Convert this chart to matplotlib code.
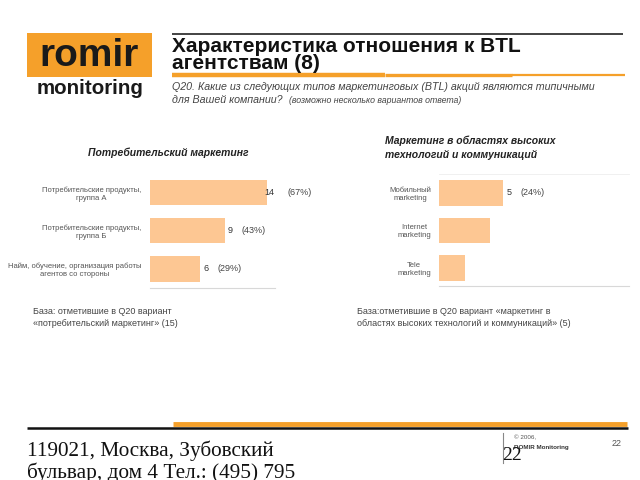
import matplotlib
matplotlib.use("Agg")
import matplotlib.pyplot as plt
from matplotlib.patches import Rectangle
from matplotlib.lines import Line2D

# ---- data ----
left_categories = ["Потребительские продукты,\nгруппа А",
                   "Потребительские продукты,\nгруппа Б",
                   "Найм, обучение, организация работы\nагентов со стороны"]
left_values = [14, 9, 6]
left_pct = ["(67%)", "(43%)", "(29%)"]

right_categories = ["Мобильный\nmarketing", "Internet\nmarketing", "Tele\nmarketing"]
right_values = [5, 4, 2]
right_pct = ["(24%)", None, None]

BAR = "#FDC793"
ORANGE = "#F5A02A"
SANS = ["Liberation Sans", "DejaVu Sans"]
SERIF = ["Liberation Serif", "DejaVu Serif"]

W, H = 640, 480
fig = plt.figure(figsize=(6.4, 4.8), dpi=100)

def fx(x): return x / W
def fy(y): return 1 - y / H

def txt(x, y, s, **kw):
    kw.setdefault("family", SANS)
    fig.text(fx(x), fy(y), s, **kw)

def hline(x0, x1, y, lw, color):
    fig.add_artist(Line2D([fx(x0), fx(x1)], [fy(y), fy(y)], lw=lw, color=color,
                          transform=fig.transFigure, solid_capstyle="butt"))

# ---- logo ----
fig.add_artist(Rectangle((fx(27), fy(77)), fx(152) - fx(27), fy(33) - fy(77),
                         transform=fig.transFigure, color=ORANGE, lw=0))
txt(89, 56, "romir", fontsize=28, weight="bold", color="#1a1a1a", ha="center", va="center")
txt(90, 89, "monitoring", fontsize=14.8, weight="bold", color="#1a1a1a", ha="center", va="center")

# ---- header ----
hline(172, 623, 33.5, 1.2, "#222222")
txt(172, 55, "Характеристика отношения к BTL\nагентствам (8)", fontsize=15.0, weight="bold",
    color="#111111", va="center", linespacing=0.88)
hline(172, 385, 75, 3.2, ORANGE)
hline(385, 512, 75, 2.4, ORANGE)
hline(512, 625, 75, 1.6, ORANGE)
txt(172, 87, "Q20. Какие из следующих типов маркетинговых (BTL) акций являются типичными",
    fontsize=7.7, style="italic", color="#444444", va="center")
txt(172, 100, "для Вашей компании?", fontsize=7.7, style="italic", color="#444444", va="center")
txt(289, 100.5, "(возможно несколько вариантов ответа)", fontsize=6.3, style="italic",
    color="#444444", va="center")

# ---- chart titles ----
txt(168, 153, "Потребительский маркетинг", fontsize=7.5, weight="bold", style="italic",
    color="#222222", ha="center", va="center")
txt(385, 141, "Маркетинг в областях высоких", fontsize=7.5, weight="bold", style="italic",
    color="#222222", va="center")
txt(385, 155, "технологий и коммуникаций", fontsize=7.5, weight="bold", style="italic",
    color="#222222", va="center")

def draw_bars(rect, cats, vals, pcts, ylim, height, top_line, num_off):
    ax = fig.add_axes(rect)
    pos = list(range(len(cats)))
    ax.barh(pos, vals, height=height, color=BAR, lw=0)
    ax.set_xlim(0, 15)
    ax.set_ylim(*ylim)
    ax.set_yticks(pos)
    ax.set_yticklabels(cats, fontsize=5.5, color="#555555", family=SANS,
                       multialignment="center")
    ax.set_xticks([])
    ax.tick_params(axis="y", length=0, pad=6)
    for s in ["left", "right"]:
        ax.spines[s].set_visible(False)
    ax.spines["bottom"].set_color("#d8d8d8")
    ax.spines["bottom"].set_linewidth(0.8)
    if top_line:
        ax.spines["top"].set_color("#eeeeee")
        ax.spines["top"].set_linewidth(0.6)
    else:
        ax.spines["top"].set_visible(False)
    for p, v, pc, no in zip(pos, vals, pcts, num_off):
        if pc is None:
            continue
        ax.annotate(str(v), (v, p), xytext=(no, 0), textcoords="offset points",
                    fontsize=6.5, color="#333333", va="center", family=SANS)
        ax.annotate(pc, (v, p), xytext=(no + (17 if v >= 10 else 10), 0),
                    textcoords="offset points",
                    fontsize=6.5, color="#444444", va="center", family=SANS)
    return ax

draw_bars([fx(149.5), fy(288), fx(275) - fx(149.5), fy(178) - fy(288)],
          left_categories, left_values, left_pct, (2.5, -0.38), 0.66, False, [-2, 2, 3])
draw_bars([fx(439.3), fy(286), fx(629) - fx(439.3), fy(174) - fy(286)],
          right_categories, right_values, right_pct, (2.48, -0.5), 0.68, True, [3, 3, 3])

# ---- base notes ----
txt(33, 312, "База: отметившие в Q20 вариант", fontsize=6.5, color="#444444", va="center")
txt(33, 323, "«потребительский маркетинг» (15)", fontsize=6.5, color="#444444", va="center")
txt(357, 312, "База:отметившие в Q20 вариант «маркетинг в", fontsize=6.5, color="#444444", va="center")
txt(357, 323, "областях высоких технологий и коммуникаций» (5)", fontsize=6.5, color="#444444", va="center")

# ---- footer ----
hline(173, 627, 423.5, 3.5, ORANGE)
hline(27, 628, 428, 1.8, "#111111")
fig.text(fx(27), fy(451), "119021, Москва, Зубовский", fontsize=15.3, family=SERIF,
         color="#111111", va="center")
fig.text(fx(27), fy(473), "бульвар, дом 4 Тел.: (495) 795", fontsize=15.3, family=SERIF,
         color="#111111", va="center")
fig.add_artist(Line2D([fx(503), fx(503)], [fy(433), fy(463)], lw=0.8, color="#888888",
                      transform=fig.transFigure))
txt(514, 438, "© 2006,", fontsize=4.5, color="#555555", va="center")
txt(514, 447, "ROMIR Monitoring", fontsize=4.5, weight="bold", color="#333333", va="center")
fig.text(fx(502), fy(456), "22", fontsize=14, family=SERIF, color="#111111", va="center")
txt(612, 444, "22", fontsize=6.5, color="#555555", va="center")

fig.savefig("out.png", dpi=100)
